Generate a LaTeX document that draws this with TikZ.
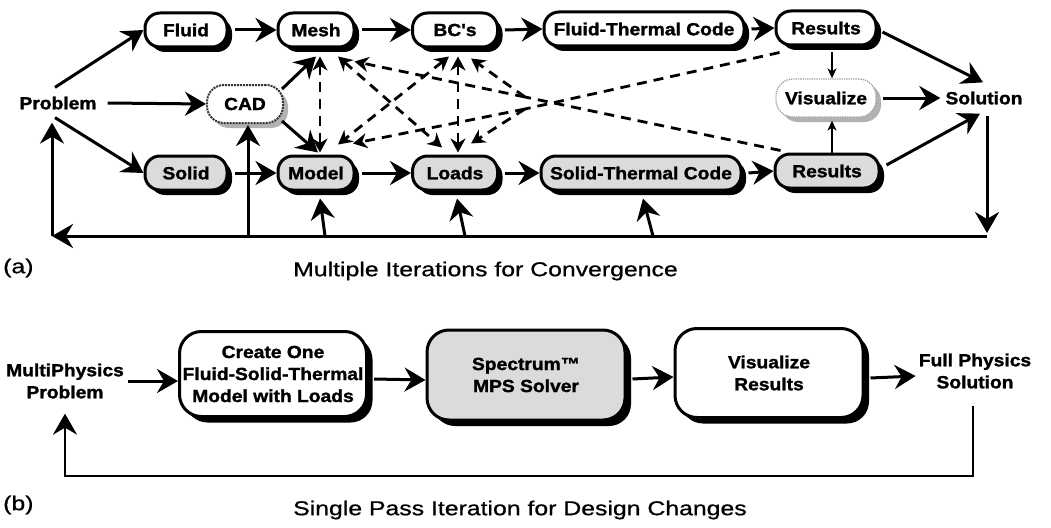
\documentclass[tikz,border=0pt]{standalone}
\usepackage{fontspec}
\setmainfont{Liberation Sans}
\newfontfamily\nodefont[FakeStretch=1.1, BoldFeatures={FakeBold=1.5}]{Liberation Sans}
\newfontfamily\capfont[FakeStretch=1.24, FakeBold=0.8]{Liberation Sans}
\usetikzlibrary{arrows.meta,shadows,calc}
\begin{document}
\begin{tikzpicture}[x=1pt,y=-1pt,
  bfont/.style={font=\nodefont\bfseries\fontsize{17.5}{22}\selectfont},
  box/.style={bfont, draw, line width=3pt, rounded corners=15pt, minimum height=34pt, inner sep=0pt, fill=white,
    drop shadow={shadow xshift=5pt, shadow yshift=-5pt, fill=black, opacity=1}},
  gbox/.style={box, fill=gray!28},
  vbox/.style={bfont, draw=black!80, densely dotted, line width=2pt, rounded corners=17pt, minimum height=38pt, inner sep=0pt, fill=white,
    drop shadow={shadow xshift=5pt, shadow yshift=-5pt, fill=gray!60, opacity=1}},
  bigbox/.style={box, rounded corners=22pt, align=center,
    drop shadow={shadow xshift=6pt, shadow yshift=-6pt, fill=black, opacity=1}},
  txt/.style={bfont, inner sep=1pt, align=center},
  captxt/.style={font=\capfont\fontsize{20}{24}\selectfont, inner sep=0pt},
  arr/.style={line width=3pt, -{Stealth[length=21pt,width=24pt,inset=7pt]}},
  sarr/.style={line width=1.8pt, -{Stealth[length=10pt,width=9pt,inset=3pt]}},
  fline/.style={line width=2.2pt, -{Stealth[length=21pt,width=24pt,inset=7pt]}},
  dashy/.style={line width=2.8pt, dash pattern=on 10pt off 7pt},
  darr/.style={dashy, {Stealth[length=14pt,width=15pt,inset=4.5pt]}-{Stealth[length=14pt,width=15pt,inset=4.5pt]}},
  dend/.style={dashy, -{Stealth[length=14pt,width=15pt,inset=4.5pt]}}
]
\useasboundingbox (0,0) rectangle (1051,527);

% ---------- (a) ----------
\node[box, minimum width=82pt] (fluid) at (186,30) {Fluid};
\node[box, minimum width=76pt] (mesh) at (316,30) {Mesh};
\node[box, minimum width=85pt] (bcs) at (455,30) {BC's};
\node[box, minimum width=200pt] (ftc) at (644,29) {Fluid-Thermal Code};
\node[box, minimum width=100pt] (rtop) at (826,28) {Results};

\node[txt] (problem) at (58,103) {Problem};
\node[vbox, minimum width=76pt] (cad) at (245,104) {CAD};
\node[vbox, draw=gray!75, line width=1.3pt, minimum width=100pt] (vis) at (826,98) {Visualize};
\node[txt] (solution) at (984,98) {Solution};

\node[gbox, minimum width=82pt] (solid) at (186,173) {Solid};
\node[gbox, minimum width=76pt] (model) at (316,173) {Model};
\node[gbox, minimum width=85pt] (loads) at (455,173) {Loads};
\node[gbox, minimum width=200pt] (stc) at (641,173) {Solid-Thermal Code};
\node[gbox, minimum width=104pt] (rbot) at (827,171) {Results};

% solid arrows
\draw[arr] ($(problem.north)+(-3,-8)$) -- (fluid.west);
\draw[arr] ($(problem.east)+(10,0)$) -- (cad.west);
\draw[arr] ($(problem.south)+(-3,7)$) -- (solid.west);
\draw[arr] ($(fluid.east)+(6,0)$) -- (mesh.west);
\draw[arr] ($(mesh.east)+(6,0)$) -- (bcs.west);
\draw[arr] ($(bcs.east)+(6,0)$) -- (ftc.west);
\draw[arr] ($(ftc.east)+(6,0)$) -- (rtop.west);
\draw[arr] ($(solid.east)+(6,0)$) -- (model.west);
\draw[arr] ($(model.east)+(6,0)$) -- (loads.west);
\draw[arr] ($(loads.east)+(6,0)$) -- (stc.west);
\draw[arr] ($(stc.east)+(6,0)$) -- (rbot.west);
\draw[arr] ($(cad.north east)+(-2,5)$) -- ($(mesh.south)+(0,8)$);
\draw[arr] ($(cad.south east)+(-2,-3)$) -- ($(model.north)+(2,-2)$);
\draw[arr] ($(rtop.east)+(5,4)$) -- ($(solution.north)+(-1,-8)$);
\draw[arr] ($(rbot.east)+(6,-6)$) -- ($(solution.south)+(-4,8)$);
\draw[arr] ($(vis.east)+(6,0)$) -- ($(solution.west)+(-4,0)$);
\draw[sarr] ($(rtop.south)+(6,6)$) -- ($(vis.north)+(6,0)$);
\draw[sarr] ($(rbot.north)+(5,0)$) -- ($(vis.south)+(6,3)$);

% dashed links
\draw[darr] ($(mesh.south)+(4,8)$) -- ($(model.north)+(4,-2)$);
\draw[darr] ($(bcs.south)+(3,8)$) -- ($(loads.north)+(3,-2)$);
\draw[darr] ($(mesh.south)+(22,8)$) -- ($(loads.north)+(-13,-7)$);
\draw[darr] ($(bcs.south)+(-6,8)$) -- ($(model.north)+(22,-10)$);
\coordinate (x1) at (525,97);
\coordinate (x2) at (525,109);
\draw[dashy] ($(rbot.north west)+(7,-2)$) -- (x1);
\draw[dashy] ($(rtop.south west)+(5,6)$) -- (x2);
\draw[dend] (x1) -- ($(mesh.south east)+(-1,13)$);
\draw[dend] (x1) -- ($(bcs.south)+(16,10)$);
\draw[dend] (x2) -- ($(model.north)+(37,-11)$);
\draw[dend] (x2) -- ($(loads.north)+(16,-11)$);

% feedback loop (a)
\coordinate (bR) at (987,236);
\coordinate (bL) at (52,236);
\coordinate (uC) at (248,236);
\coordinate (uM) at (325,236);
\coordinate (uL) at (465,236);
\coordinate (uS) at (653,236);
\draw[arr] ($(solution.south)+(3,10)$) -- ($(bR)+(0,-3)$);
\draw[arr] (bR) -- (bL);
\draw[arr] (bL) -- ($(bL |- problem.south)+(0,12)$);
\draw[arr] (uC) -- ($(uC |- cad.south)+(0,1)$);
\draw[arr] (uM) -- ($(model.south)+(4,7)$);
\draw[arr] (uL) -- ($(loads.south)+(2,7)$);
\draw[arr] (uS) -- ($(stc.south)+(2,7)$);

\node[captxt, anchor=west] (labela) at (3,268) {(a)};
\node[captxt, anchor=west] (capa) at (293,271) {Multiple Iterations for Convergence};

% ---------- (b) ----------
\node[txt] (mp) at (65,381) {MultiPhysics\\Problem};
\node[bigbox, minimum width=187pt, minimum height=85pt] (create) at (273,374) {Create One\\Fluid-Solid-Thermal\\Model with Loads};
\node[bigbox, fill=gray!28, minimum width=198pt, minimum height=90pt] (spec) at (526,375) {Spectrum™\\MPS Solver};
\node[bigbox, minimum width=188pt, minimum height=89pt] (visr) at (769,373) {Visualize\\Results};
\node[txt] (fps) at (975,371) {Full Physics\\Solution};

\draw[arr] ($(mp.east)+(3,0)$) -- (create.west |- mp.east);
\draw[arr] ($(create.east)+(6,5)$) -- ($(spec.west)+(0,5)$);
\draw[arr] ($(spec.east)+(6,4)$) -- ($(visr.west)+(0,4)$);
\draw[arr] ($(visr.east)+(6,5)$) -- ($(fps.west)+(-2,5)$);
\coordinate (fb1) at (973,476);
\coordinate (fb2) at (65,476);
\draw[fline] ($(fps.south)+(-2,16)$) -- (fb1) -- (fb2) -- ($(mp.south)+(0,14)$);

\node[captxt, anchor=west] (labelb) at (3,505) {(b)};
\node[captxt, anchor=west] (capb) at (293,510) {Single Pass Iteration for Design Changes};
\end{tikzpicture}
\end{document}
